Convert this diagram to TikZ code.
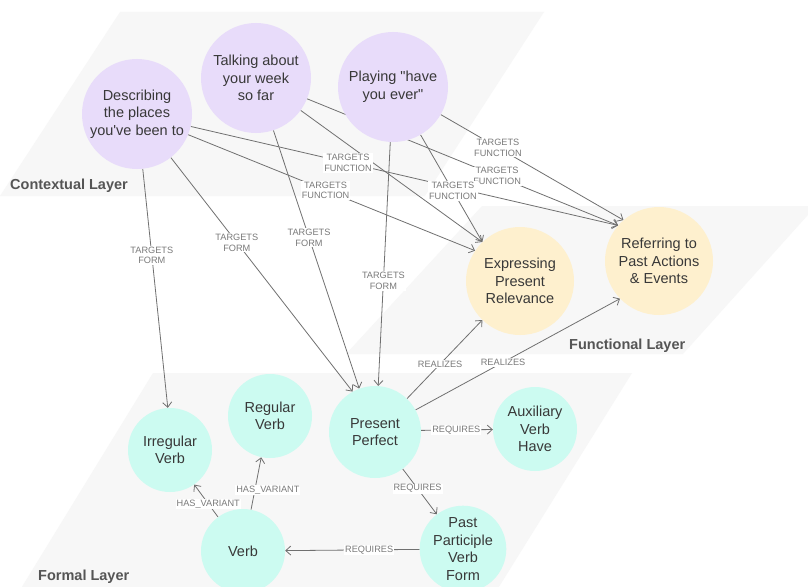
\documentclass[tikz,border=0pt]{standalone}
\usepackage{fontspec}
\newfontfamily\lib{Liberation Sans}
\usetikzlibrary{arrows.meta}
\pgfdeclarelayer{bg}\pgfdeclarelayer{edges}\pgfdeclarelayer{labels}
\pgfsetlayers{bg,edges,labels,main}
\definecolor{ctxcol}{HTML}{E8DCFA}
\definecolor{funcol}{HTML}{FEF0CE}
\definecolor{formcol}{HTML}{CCFBF1}
\definecolor{layerfill}{HTML}{F7F7F7}
\definecolor{edgecol}{HTML}{707070}
\definecolor{lblcol}{HTML}{7A7A7A}
\definecolor{nodetext}{HTML}{383838}
\definecolor{layertext}{HTML}{555555}
\newcommand\cedge[4]{%
  \begin{pgfonlayer}{edges}\draw[conn] (#1) -- (#2);\end{pgfonlayer}%
  \begin{pgfonlayer}{labels}\path (#1) -- (#2) node[elbl,pos=#3]{#4};\end{pgfonlayer}}
\begin{document}
\begin{tikzpicture}[x=1pt,y=-1pt,
  cnode/.style={circle, inner sep=0pt, align=center, text=nodetext,
    font=\lib\fontsize{14.5}{17.6}\selectfont},
  ctxnode/.style={cnode, fill=ctxcol, minimum size=110pt},
  funnode/.style={cnode, fill=funcol, minimum size=108pt},
  formnode/.style={cnode, fill=formcol, minimum size=84pt},
  conn/.style={draw=edgecol, line width=0.8pt, -{Straight Barb[length=5pt,width=9pt]}},
  elbl/.style={fill=white, inner sep=1pt, align=center, text=lblcol,
    font=\lib\fontsize{9.2}{10.8}\selectfont},
  layerbox/.style={fill=layerfill, draw=none},
  layerlbl/.style={anchor=west, inner sep=0pt, text=layertext,
    font=\lib\bfseries\fontsize{14.5}{17}\selectfont}
]
\useasboundingbox (0,0) rectangle (808,586);
\clip (0,0) rectangle (808,586);
\begin{pgfonlayer}{bg}
  \fill[white] (0,0) rectangle (808,586);
  \path[layerbox] (120,12) -- (544,12) -- (425,196) -- (0,196) -- cycle;
  \path[layerbox] (482,206) -- (816,206) -- (683,354) -- (346,354) -- cycle;
  \path[layerbox] (153,373) -- (632,373) -- (497,590) -- (20,590) -- cycle;
\end{pgfonlayer}
\node[layerlbl] (lctx) at (10,186) {Contextual Layer};
\node[layerlbl] (lfun) at (569,346) {Functional Layer};
\node[layerlbl] (lform) at (38,577) {Formal Layer};

\node[ctxnode] (desc) at (137,114) {Describing\\the places\\you've been to};
\node[ctxnode] (talk) at (256,78) {Talking about\\your week\\so far};
\node[ctxnode] (play) at (393,87) {Playing "have\\you ever"};
\node[funnode] (expr) at (520,281) {Expressing\\Present\\Relevance};
\node[funnode] (refr) at (659,261) {Referring to\\Past Actions\\\&~Events};
\node[formnode] (irr) at (170,450) {Irregular\\Verb};
\node[formnode] (reg) at (270,416) {Regular\\Verb};
\node[formnode, minimum size=92pt] (pp) at (375,432) {Present\\Perfect};
\node[formnode] (aux) at (535,429) {Auxiliary\\Verb\\Have};
\node[formnode] (verb) at (243,551) {Verb};
\node[formnode] (ppf) at (463,549) {Past\\Participle\\Verb\\Form};

\cedge{desc}{irr.93}{0.362}{TARGETS\\FORM}
\cedge{desc}{pp.119}{0.363}{TARGETS\\FORM}
\cedge{talk}{pp.110}{0.415}{TARGETS\\FORM}
\cedge{play}{pp.86}{0.57}{TARGETS\\FORM}
\cedge{desc}{expr.146}{0.479}{TARGETS\\FUNCTION}
\cedge{desc}{refr.139}{0.368}{TARGETS\\FUNCTION}
\begin{pgfonlayer}{edges}\draw[conn] (talk) -- (expr.134);\end{pgfonlayer}
\cedge{talk}{refr.139}{0.611}{TARGETS\\FUNCTION}
\cedge{play}{expr.134}{0.523}{TARGETS\\FUNCTION}
\cedge{play}{refr.131}{0.313}{TARGETS\\FUNCTION}
\cedge{pp}{expr.226}{0.44}{REALIZES}
\cedge{pp}{refr.224}{0.428}{REALIZES}
\cedge{pp.2}{aux}{0.49}{REQUIRES}
\cedge{pp}{ppf.127}{0.435}{REQUIRES}
\cedge{ppf}{verb}{0.375}{REQUIRES}
\cedge{verb}{irr.305}{0.41}{HAS\_VARIANT}
\begin{pgfonlayer}{edges}\draw[conn] (verb) -- (reg.258);\end{pgfonlayer}
\begin{pgfonlayer}{labels}\path (verb) -- (reg.258) node[elbl,pos=0.375,xshift=13pt]{HAS\_VARIANT};\end{pgfonlayer}
\end{tikzpicture}
\end{document}
